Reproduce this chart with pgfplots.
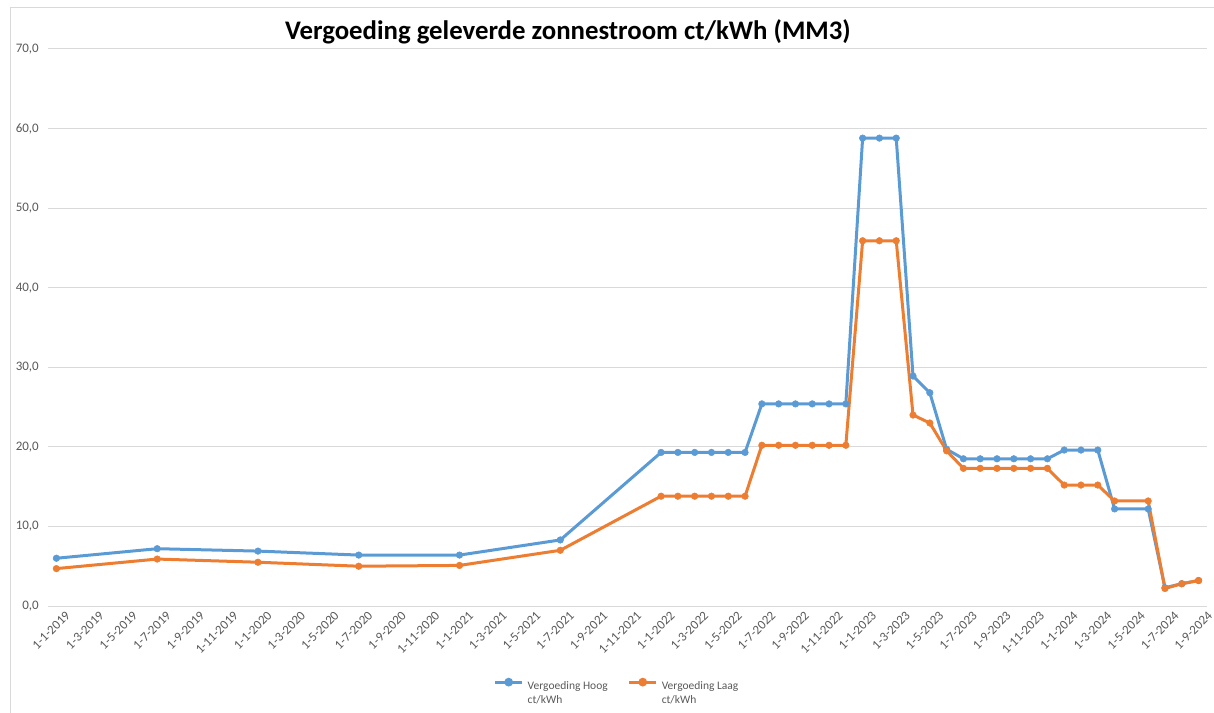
\documentclass[border=0pt]{standalone}
\usepackage{pgfplots}
\pgfplotsset{compat=1.18}
\usepackage{fontspec}
\setmainfont{Carlito}
\definecolor{hoog}{HTML}{5B9BD5}
\definecolor{laag}{HTML}{ED7D31}
\definecolor{gridc}{HTML}{D9D9D9}
\definecolor{txt}{HTML}{595959}

\pgfplotstableread{
m v
0 6.0
6 7.2
12 6.9
18 6.4
24 6.4
30 8.3
36 19.3
37 19.3
38 19.3
39 19.3
40 19.3
41 19.3
42 25.4
43 25.4
44 25.4
45 25.4
46 25.4
47 25.4
48 58.8
49 58.8
50 58.8
51 28.9
52 26.8
53 19.7
54 18.5
55 18.5
56 18.5
57 18.5
58 18.5
59 18.5
60 19.6
61 19.6
62 19.6
63 12.2
65 12.2
66 2.3
67 2.8
68 3.2
}\hoogtable

\pgfplotstableread{
m v
0 4.7
6 5.9
12 5.5
18 5.0
24 5.1
30 7.0
36 13.8
37 13.8
38 13.8
39 13.8
40 13.8
41 13.8
42 20.2
43 20.2
44 20.2
45 20.2
46 20.2
47 20.2
48 45.9
49 45.9
50 45.9
51 24.0
52 23.0
53 19.5
54 17.3
55 17.3
56 17.3
57 17.3
58 17.3
59 17.3
60 15.2
61 15.2
62 15.2
63 13.2
65 13.2
66 2.2
67 2.8
68 3.2
}\laagtable

\begin{document}
\begin{tikzpicture}
\path[use as bounding box] (0,0) rectangle (1214bp,713bp);
\draw[gridc, line width=1bp] (10bp,0) -- (10bp,705bp) -- (1214bp,705bp);
\node[font=\bfseries\fontsize{26.8bp}{30bp}\selectfont, anchor=base, inner sep=0pt] at (568bp,673bp) {Vergoeding geleverde zonnestroom ct/kWh (MM3)};
\begin{axis}[
  at={(48bp,107bp)}, anchor=south west,
  scale only axis, width=1159bp, height=557bp,
  xmin=-0.5, xmax=68.5, ymin=0, ymax=70,
  ytick={0,10,...,70},
  xtick={0,2,...,68},
  xticklabels={1-1-2019,1-3-2019,1-5-2019,1-7-2019,1-9-2019,1-11-2019,
    1-1-2020,1-3-2020,1-5-2020,1-7-2020,1-9-2020,1-11-2020,
    1-1-2021,1-3-2021,1-5-2021,1-7-2021,1-9-2021,1-11-2021,
    1-1-2022,1-3-2022,1-5-2022,1-7-2022,1-9-2022,1-11-2022,
    1-1-2023,1-3-2023,1-5-2023,1-7-2023,1-9-2023,1-11-2023,
    1-1-2024,1-3-2024,1-5-2024,1-7-2024,1-9-2024},
  ymajorgrids,
  grid style={gridc, line width=1bp},
  axis line style={draw=none},
  major tick length=0pt,
  tick label style={font=\fontsize{13bp}{15bp}\selectfont, text=txt},
  /pgf/number format/.cd, fixed, fixed zerofill, precision=1, use comma, assume math mode=true,
  /pgfplots/.cd,
  yticklabel style={anchor=east, inner sep=0pt, xshift=-9bp},
  xticklabel style={rotate=45, anchor=north east, inner sep=0pt, xshift=3bp, yshift=-9bp},
  legend columns=2,
  legend style={at={(0.491,-0.128)}, anchor=north, draw=none, fill=none, inner sep=0pt,
    font=\fontsize{11.5bp}{14bp}\selectfont, text=txt,
    /tikz/every even column/.append style={column sep=18bp},
    /tikz/every odd column/.append style={column sep=2bp}},
  legend cell align=left,
  legend image code/.code={\draw[#1, line width=3bp] (0bp,3bp) -- (27bp,3bp); \fill[#1] (13.5bp,3bp) circle (2.8bp);},
]
\addplot[hoog, line width=3bp, mark=*, mark size=3.3bp, mark options={fill=hoog, draw=hoog, line width=0.5bp}] table[x=m, y=v] {\hoogtable};
\addlegendentry{\begin{tabular}[t]{@{}l@{}}Vergoeding Hoog\\ct/kWh\end{tabular}}
\addplot[laag, line width=3bp, mark=*, mark size=3.3bp, mark options={fill=laag, draw=laag, line width=0.5bp}] table[x=m, y=v] {\laagtable};
\addlegendentry{\begin{tabular}[t]{@{}l@{}}Vergoeding Laag\\ct/kWh\end{tabular}}
\end{axis}
\end{tikzpicture}
\end{document}
